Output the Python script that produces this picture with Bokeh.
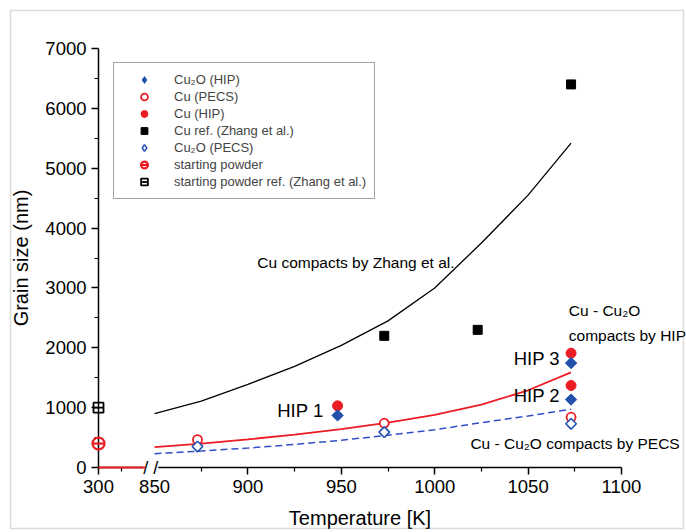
import math
from bokeh.plotting import figure
from bokeh.models import (FixedTicker, Legend, LegendItem, Label, BoxAnnotation, Range1d)
from bokeh.embed import file_html
from bokeh.resources import INLINE

# ---------------- data ----------------
t_pecs = [873, 973, 1073]
cu_pecs = [465, 740, 840]
cu2o_pecs = [350, 590, 730]

t_hip = [948, 1073, 1073]
cu_hip = [1030, 1370, 1910]
cu2o_hip = [870, 1135, 1745]

t_ref = [973, 1023, 1073]
cu_ref = [2200, 2300, 6400]

t_start = [300]
start_powder = [400]
start_powder_ref = [1000]

t_fit = [850, 875, 900, 925, 950, 975, 1000, 1025, 1050, 1073]
zhang_fit = [900, 1110, 1390, 1690, 2040, 2450, 3000, 3750, 4550, 5420]
hip_fit = [340, 400, 470, 550, 640, 750, 880, 1050, 1290, 1590]
pecs_fit = [230, 275, 325, 385, 455, 540, 630, 750, 860, 975]

t_low = [300, 400]
low_fit = [0, 0]

x_ticks = [300, 850, 900, 950, 1000, 1050, 1100]
x_minor = [350, 875, 925, 975, 1025, 1075]
y_ticks = [0, 1000, 2000, 3000, 4000, 5000, 6000, 7000]
y_minor = [500, 1500, 2500, 3500, 4500, 5500, 6500]


def ax(t):
    """broken x axis: 300-400 K compressed before the break at 850 K"""
    return t if t >= 850 else 820 + (t - 300) * 0.25


def axl(ts):
    return [ax(t) for t in ts]


RED = "#ec1c24"
BLUE = "#2350ad"
BLUE_L = "#3150c8"
FONT = "Liberation Sans"

W, H = 686, 532
# axis placement inside the canvas (pixels)
AX_LEFT, AX_RIGHT, AX_TOP, AX_BOTTOM = 98, 621, 48, 467
PX = (AX_RIGHT - AX_LEFT) / (1100 - 820)
PY = (AX_BOTTOM - AX_TOP) / 7000

p = figure(width=W, height=H, output_backend="svg", toolbar_location=None,
           x_range=Range1d(820 - AX_LEFT / PX, 820 + (W - AX_LEFT) / PX),
           y_range=Range1d(-(H - AX_BOTTOM) / PY, AX_BOTTOM / PY),
           min_border=0)
p.outline_line_color = None
p.grid.visible = False

# fitted curves
p.line(axl(t_fit), zhang_fit, line_color="black", line_width=1.3)
p.line(axl(t_fit), hip_fit, line_color=RED, line_width=1.8)
p.line(axl(t_fit), pecs_fit, line_color=BLUE_L, line_width=1.5, line_dash="7 4")
p.line(axl(t_low), low_fit, line_color=RED, line_width=2, level="overlay")

# markers
r_cu_pecs = p.scatter(axl(t_pecs), cu_pecs, marker="circle", size=9,
                      fill_color="white", line_color=RED, line_width=1.8)
r_cu2o_pecs = p.scatter(axl(t_pecs), cu2o_pecs, marker="square", angle=math.pi / 4,
                        size=7.5, fill_color="white", line_color=BLUE, line_width=1.6)
r_cu_hip = p.scatter(axl(t_hip), cu_hip, marker="circle", size=10,
                     fill_color=RED, line_color=RED)
r_cu2o_hip = p.scatter(axl(t_hip), cu2o_hip, marker="square", angle=math.pi / 4,
                       size=8, fill_color=BLUE, line_color=BLUE)
r_ref = p.scatter(axl(t_ref), cu_ref, marker="square", size=9,
                  fill_color="black", line_color="black")
r_sp1 = p.scatter(axl(t_start), start_powder, marker="circle", size=12,
                  fill_color=None, line_color=RED, line_width=2.2, level="overlay")
r_sp2 = p.scatter(axl(t_start), start_powder, marker="dash", size=12,
                  line_color=RED, line_width=2.2, level="overlay")
r_spr1 = p.scatter(axl(t_start), start_powder_ref, marker="square", size=10,
                   fill_color=None, line_color="black", line_width=1.8, level="overlay")
r_spr2 = p.scatter(axl(t_start), start_powder_ref, marker="dash", size=10,
                   line_color="black", line_width=1.8, level="overlay")

# legend-only diamond proxies (legend glyphs ignore rotation)
leg_cu2o_hip = p.scatter(axl(t_hip), cu2o_hip, marker="diamond", size=8,
                         fill_color=BLUE, line_color=BLUE, visible=False)
leg_cu2o_pecs = p.scatter(axl(t_pecs), cu2o_pecs, marker="diamond", size=8,
                          fill_color="white", line_color=BLUE, line_width=1.5, visible=False)

# axes (placed inside the canvas-wide frame)
for a in (p.xaxis[0], p.yaxis[0]):
    a.axis_line_width = 1.5
    a.major_tick_line_width = 1.5
    a.minor_tick_line_width = 1.2
    a.major_tick_out = 7
    a.major_tick_in = 0
    a.minor_tick_out = 4
    a.minor_tick_in = 0
    a.major_label_text_font = FONT
    a.major_label_text_font_size = "18.5px"
    a.major_label_text_color = "black"
    a.major_label_standoff = 5
    a.axis_label_text_font = FONT
    a.axis_label_text_font_size = "20px"
    a.axis_label_text_font_style = "normal"
    a.axis_label_text_color = "black"

p.xaxis.fixed_location = 0
p.yaxis.fixed_location = 820
p.xaxis.bounds = (820, 1100)
p.yaxis.bounds = (0, 7000)
p.xaxis.ticker = FixedTicker(ticks=axl(x_ticks), minor_ticks=axl(x_minor))
p.xaxis.major_label_overrides = {int(ax(t)): str(t) for t in x_ticks}
p.yaxis.ticker = FixedTicker(ticks=y_ticks, minor_ticks=y_minor)
p.xaxis.axis_label = "Temperature [K]"
p.yaxis.axis_label = "Grain size (nm)"
p.xaxis.axis_label_standoff = 11
p.yaxis.axis_label_standoff = 10

# axis break mark
p.add_layout(Label(x=848, y=0, text="/ /", text_align="center", text_baseline="middle",
                   text_font=FONT, text_font_size="18px", text_color="black",
                   background_fill_color="white"))

# annotations
def txt(x, y, s, size="15.5px"):
    p.add_layout(Label(x=x, y=y, text=s, text_align="left", text_baseline="middle",
                       text_font=FONT, text_font_size=size, text_color="black"))

txt(905, 3430, "Cu compacts by Zhang et al.")
txt(915.7, 952, "HIP 1", "18.5px")
txt(1042.3, 1816, "HIP 3", "18.5px")
txt(1042.3, 1203, "HIP 2", "18.5px")
txt(1071.8, 2623, "Cu - Cu\u2082O")
txt(1071.8, 2205, "compacts by HIP")
txt(1019.1, 396, "Cu - Cu\u2082O compacts by PECS")

# legend
legend = Legend(items=[
    LegendItem(label="Cu\u2082O (HIP)", renderers=[leg_cu2o_hip]),
    LegendItem(label="Cu (PECS)", renderers=[r_cu_pecs]),
    LegendItem(label="Cu (HIP)", renderers=[r_cu_hip]),
    LegendItem(label="Cu ref. (Zhang et al.)", renderers=[r_ref]),
    LegendItem(label="Cu\u2082O (PECS)", renderers=[leg_cu2o_pecs]),
    LegendItem(label="starting powder", renderers=[r_sp1, r_sp2]),
    LegendItem(label="starting powder ref. (Zhang et al.)", renderers=[r_spr1, r_spr2]),
], location=(113, H - 199))
legend.label_text_font = FONT
legend.label_text_font_size = "13px"
legend.label_height = 17
legend.glyph_height = 17
legend.glyph_width = 44
legend.spacing = 0
legend.padding = 8
legend.margin = 0
legend.label_standoff = 8
legend.border_line_color = "#444444"
legend.border_line_width = 1
legend.background_fill_color = "white"
legend.background_fill_alpha = 1
p.add_layout(legend)

# outer frame
p.add_layout(BoxAnnotation(left=10, right=683, top=10, bottom=528,
                           left_units="canvas", right_units="canvas",
                           top_units="canvas", bottom_units="canvas",
                           fill_alpha=0, line_color="#8c8c8c", line_width=1.5,
                           level="overlay"))

open("out.html", "w").write(file_html(p, INLINE))
